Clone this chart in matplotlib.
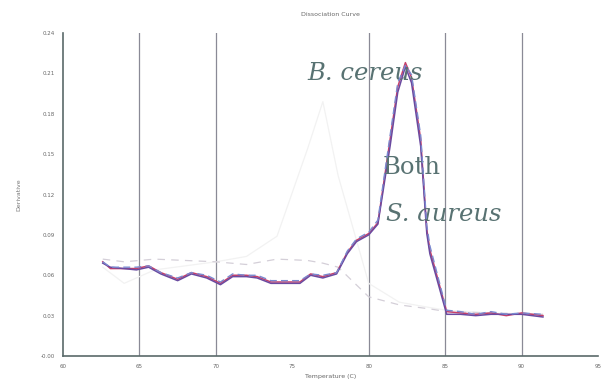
import matplotlib.pyplot as plt

# Melt (dissociation) curve data, temperature in C and derivative value
temp = [62.6, 63.1, 64.8, 65.6, 66.4, 67.5, 68.4, 69.4, 70.3, 71.1, 72.0, 72.7,
        73.6, 74.7, 75.5, 76.2, 77.0, 77.9, 78.6, 79.2, 80.0, 80.6, 81.4, 81.9,
        82.4, 82.8, 83.4, 83.8, 84.0, 85.1, 86.0, 87.0, 88.0, 89.0, 90.0, 91.4]

cereus = [0.066, 0.061, 0.061, 0.063, 0.058, 0.053, 0.058, 0.055, 0.050, 0.056, 0.056, 0.055,
          0.051, 0.051, 0.051, 0.057, 0.055, 0.058, 0.073, 0.082, 0.087, 0.095, 0.157, 0.196,
          0.214, 0.203, 0.157, 0.090, 0.075, 0.029, 0.028, 0.027, 0.028, 0.026, 0.028, 0.026]

aureus = [0.065, 0.062, 0.060, 0.062, 0.057, 0.052, 0.057, 0.054, 0.049, 0.055, 0.055, 0.054,
          0.050, 0.050, 0.050, 0.056, 0.054, 0.057, 0.072, 0.081, 0.086, 0.094, 0.152, 0.192,
          0.211, 0.199, 0.152, 0.087, 0.072, 0.027, 0.027, 0.026, 0.027, 0.027, 0.027, 0.025]

both = [0.066, 0.062, 0.062, 0.063, 0.058, 0.054, 0.058, 0.056, 0.051, 0.057, 0.056, 0.056,
        0.052, 0.052, 0.052, 0.057, 0.056, 0.058, 0.074, 0.083, 0.088, 0.097, 0.160, 0.199,
        0.212, 0.205, 0.160, 0.093, 0.078, 0.030, 0.029, 0.027, 0.029, 0.027, 0.028, 0.027]

# faint negative-control traces
ctrl_temp = [62.6, 64.0, 66.0, 68.0, 70.0, 72.0, 74.0, 76.0, 77.0, 78.0, 80.0, 82.0, 84.0, 85.1, 88.0, 91.4]
ctrl_a = [0.068, 0.066, 0.068, 0.067, 0.066, 0.064, 0.068, 0.067, 0.065, 0.062, 0.040, 0.034, 0.031, 0.029, 0.028, 0.027]
ctrl_b = [0.062, 0.050, 0.060, 0.063, 0.066, 0.070, 0.085, 0.150, 0.185, 0.130, 0.050, 0.036, 0.032, 0.030, 0.028, 0.027]

xticks = [60, 65, 70, 75, 80, 85, 90, 95]
grid_x = [65, 70, 80, 85, 90]
yticks = [-0.004 + 0.03 * k for k in range(9)]

fig = plt.figure(figsize=(6.03, 3.82), dpi=100)
ax = fig.add_axes([0.1045, 0.068, 0.8872, 0.8456])

for gx in grid_x:
    ax.axvline(gx, color='#8a8a96', linewidth=0.9, zorder=1)

ax.plot(ctrl_temp, ctrl_b, color='#f2f2f2', linewidth=0.9, zorder=2)
ax.plot(ctrl_temp, ctrl_a, color='#d4cfd8', linewidth=0.9, dashes=(6, 5), zorder=2)
ax.plot(temp, cereus, color='#c8406a', linewidth=1.1, zorder=3)
ax.plot(temp, aureus, color='#6a4aa0', linewidth=1.1, zorder=3)
ax.plot(temp, both, color='#7a8ad0', linewidth=1.0, dashes=(5, 3), zorder=4)

ax.set_xlim(60, 95)
ax.set_ylim(-0.004, 0.236)
ax.set_xticks(xticks)
ax.set_yticks(yticks)
ax.set_yticklabels([f'{v:.2f}' for v in yticks])
ax.tick_params(length=0, labelsize=4, colors='#666666', pad=6)

for side in ['top', 'right']:
    ax.spines[side].set_visible(False)
for side in ['left', 'bottom']:
    ax.spines[side].set_color('#5a6a6a')
    ax.spines[side].set_linewidth(1.2)

ax.set_title('Dissociation Curve', fontsize=4.5, color='#666666', pad=12)
ax.set_xlabel('Temperature (C)', fontsize=4.5, color='#666666', labelpad=3)
ax.set_ylabel('Derivative', fontsize=4.5, color='#777777', labelpad=14)

label_kw = dict(fontsize=17.5, color='#587272', family='DejaVu Serif', ha='left', va='center')
ax.text(76.0, 0.206, 'B. cereus', style='italic', **label_kw)
ax.text(80.9, 0.136, 'Both', **label_kw)
ax.text(81.1, 0.101, 'S. aureus', style='italic', **label_kw)

fig.savefig('out.png', dpi=100)
